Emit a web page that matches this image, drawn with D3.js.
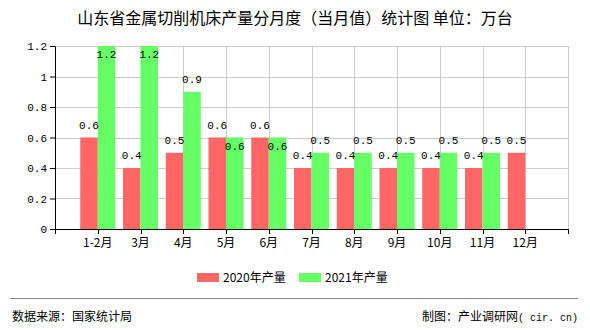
<!DOCTYPE html>
<html><head><meta charset="utf-8">
<script src="https://cdn.jsdelivr.net/npm/d3@7"></script>
<style>body{margin:0;background:#fff}svg{display:block}</style>
</head><body>
<script>
const categories = ["1-2月","3月","4月","5月","6月","7月","8月","9月","10月","11月","12月"];
const series2020 = [0.6,0.4,0.5,0.6,0.6,0.4,0.4,0.4,0.4,0.4,0.5];
const series2021 = [1.2,1.2,0.9,0.6,0.6,0.5,0.5,0.5,0.5,0.5,null];
const seriesNames = ["2020年产量","2021年产量"];
const yTicks = [0,0.2,0.4,0.6,0.8,1,1.2];
const title = "山东省金属切削机床产量分月度（当月值）统计图 单位：万台";

const W=590,H=330;
const colors=["#ff6666","#66ff66"];
const numFont="'Liberation Mono','DejaVu Sans Mono',monospace";
const cjkFont="'Noto Sans CJK SC','DejaVu Sans',sans-serif";
const svg=d3.select("body").append("svg").attr("width",W).attr("height",H);
const L=55,R=568,T=46,B=229;
// 12 bands: categories sit on band right edges (echarts-like offset)
const bandDomain=d3.range(12);
const xb=d3.scaleBand().domain(bandDomain).range([L,R]);
const xc=i=>xb(i)+xb.bandwidth();
const y=d3.scaleLinear().domain([0,1.2]).range([B,T]);
const bw=17.5;

// grid
const g=svg.append("g");
g.selectAll("line.h").data(yTicks.slice(1)).join("line")
 .attr("x1",L).attr("x2",R).attr("y1",d=>Math.round(y(d))+0.5).attr("y2",d=>Math.round(y(d))+0.5)
 .attr("stroke","#cccccc");
const vpos=d3.range(12).map(i=>xc(i));
g.selectAll("line.v").data(vpos).join("line")
 .attr("x1",d=>Math.round(d)+0.5).attr("x2",d=>Math.round(d)+0.5).attr("y1",T).attr("y2",B)
 .attr("stroke","#cccccc");

// bars
const data=categories.map((c,i)=>({i,c,v:[series2020[i],series2021[i]]}));
[0,1].forEach(s=>{
  svg.append("g").selectAll("rect").data(data.filter(d=>d.v[s]!=null)).join("rect")
   .attr("x",d=>s===0?xc(d.i)-bw:xc(d.i))
   .attr("width",bw)
   .attr("y",d=>y(d.v[s]))
   .attr("height",d=>B-y(d.v[s]))
   .attr("fill",colors[s]);
});

// axes
const yAxis=d3.axisLeft(y).tickValues(yTicks).tickSize(5).tickPadding(3)
  .tickFormat(d=>d===0?"0":(d===1?"1":d3.format(".1f")(d)));
const ya=svg.append("g").attr("transform",`translate(${L},0)`).call(yAxis);
ya.select(".domain").attr("stroke","#000");
ya.selectAll("text").attr("font-family",numFont).attr("font-size","11px").attr("fill","#000");
ya.selectAll("line").attr("stroke","#000");

const xa=svg.append("g").attr("transform",`translate(0,${B})`);
xa.append("line").attr("x1",L).attr("x2",R).attr("y1",0.5).attr("y2",0.5).attr("stroke","#000");
xa.selectAll("line.t").data([L].concat(d3.range(12).map(i=>xc(i)))).join("line")
 .attr("x1",d=>Math.round(d)+0.5).attr("x2",d=>Math.round(d)+0.5).attr("y1",0).attr("y2",5).attr("stroke","#000");
xa.selectAll("text").data(data).join("text")
 .attr("x",d=>xc(d.i)).attr("y",18).attr("text-anchor","middle")
 .attr("font-family",cjkFont).attr("font-size","12px").attr("fill","#000")
 .text(d=>d.c);

// value labels
const lab=svg.append("g").attr("font-family",numFont).attr("font-size","11px").attr("fill","#000").attr("text-anchor","middle");
data.forEach(d=>{
  const a=d.v[0], b=d.v[1];
  if(a!=null){
    lab.append("text").attr("x",xc(d.i)-bw/2).attr("y",y(a)-9).text(a);
  }
  if(b!=null){
    const inside = (y(b)-9-8<T-2) || (a===b);
    lab.append("text").attr("x",xc(d.i)+bw/2).attr("y",inside?y(b)+12:y(b)-9).text(b);
  }
});

// title
svg.append("text").attr("x",295).attr("y",24).attr("text-anchor","middle")
 .attr("font-family",cjkFont).attr("font-size","16px").attr("fill","#000").text(title);

// legend
const leg=svg.append("g").attr("font-family",cjkFont).attr("font-size","12px");
const lx=[197,299];
seriesNames.forEach((n,s)=>{
  leg.append("rect").attr("x",lx[s]).attr("y",273).attr("width",22).attr("height",9).attr("fill",colors[s]);
  leg.append("text").attr("x",lx[s]+26).attr("y",282).attr("fill","#000").text(n);
});

// footer
svg.append("line").attr("x1",10).attr("x2",578).attr("y1",298.5).attr("y2",298.5).attr("stroke","#888");
svg.append("text").attr("x",12).attr("y",321).attr("font-family",cjkFont).attr("font-size","12px").attr("fill","#000").text("数据来源：国家统计局");
const ft=svg.append("text").attr("x",578).attr("y",321).attr("text-anchor","end").attr("font-family",cjkFont).attr("font-size","12px").attr("fill","#000");
ft.append("tspan").text("制图：产业调研网");
ft.append("tspan").attr("font-family",numFont).attr("font-size","10px").text("( cir. cn)");
</script>
</body></html>
